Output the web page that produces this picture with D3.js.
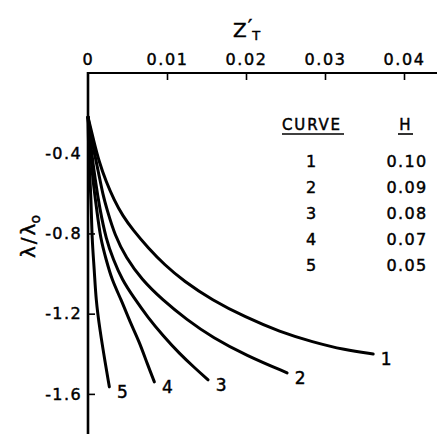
<!DOCTYPE html>
<html>
<head>
<meta charset="utf-8">
<script src="https://cdn.jsdelivr.net/npm/d3@7"></script>
<style>
  html, body { margin: 0; padding: 0; background: #fff; }
  svg { display: block; }
  text { font-family: "DejaVu Sans", sans-serif; fill: #000; stroke: #000; stroke-width: 0.45px; }
</style>
</head>
<body>
<svg id="chart" width="437" height="435"></svg>
<script>
// Z'_T (top axis) against lambda/lambda_0 (left axis) for five values of H
const curveIds = ["1", "2", "3", "4", "5"];
const hValues = ["0.10", "0.09", "0.08", "0.07", "0.05"];

const curve1 = [[0, -0.22], [0.0007, -0.334], [0.0014, -0.443], [0.0023, -0.543], [0.0033, -0.633],
  [0.0044, -0.713], [0.0057, -0.783], [0.0076, -0.872], [0.0097, -0.957], [0.0121, -1.037],
  [0.0157, -1.132], [0.0199, -1.217], [0.0243, -1.291], [0.0284, -1.341], [0.0325, -1.381], [0.0361, -1.401]];
const curve2 = [[0, -0.22], [0.0006, -0.36], [0.0013, -0.49], [0.0019, -0.61], [0.0024, -0.68],
  [0.0034, -0.81], [0.0048, -0.92], [0.0068, -1.03], [0.0094, -1.13], [0.0125, -1.23],
  [0.0158, -1.32], [0.0201, -1.41], [0.0252, -1.495]];
const curve3 = [[0, -0.22], [0.0004, -0.38], [0.0009, -0.53], [0.0015, -0.68], [0.0023, -0.83],
  [0.0032, -0.93], [0.0043, -1.03], [0.0058, -1.12], [0.0076, -1.22], [0.0095, -1.31],
  [0.0116, -1.40], [0.0135, -1.47], [0.0152, -1.53]];
const curve4 = [[0, -0.22], [0.0003, -0.38], [0.0006, -0.53], [0.0011, -0.68], [0.0016, -0.83],
  [0.0023, -0.93], [0.0030, -1.03], [0.0042, -1.13], [0.0053, -1.24], [0.0065, -1.34],
  [0.0075, -1.45], [0.0084, -1.54]];
const curve5 = [[0, -0.22], [0.0001, -0.43], [0.0004, -0.63], [0.0005, -0.83], [0.0008, -0.98],
  [0.0010, -1.13], [0.0015, -1.28], [0.0022, -1.45], [0.0027, -1.565]];
const seriesData = [curve1, curve2, curve3, curve4, curve5];

const xTicks = [0, 0.01, 0.02, 0.03, 0.04];
const xTickLabels = ["0", "0.01", "0.02", "0.03", "0.04"];
const yTicks = [-0.4, -0.8, -1.2, -1.6];
const yTickLabels = ["-0.4", "-0.8", "-1.2", "-1.6"];
const xAxisEnd = 0.0443;
const yAxisEnd = -1.8;

const svg = d3.select("#chart");
const x = d3.scaleLinear().domain([0, 0.04]).range([88, 404]);
const y = d3.scaleLinear().domain([0, -1.8]).range([73, 434]);

// axis lines
svg.append("line")
  .attr("x1", x(0)).attr("x2", x(xAxisEnd))
  .attr("y1", y(0)).attr("y2", y(0))
  .attr("stroke", "#000").attr("stroke-width", 2);
svg.append("line")
  .attr("x1", x(0)).attr("x2", x(0))
  .attr("y1", y(0) - 1).attr("y2", y(yAxisEnd))
  .attr("stroke", "#000").attr("stroke-width", 2.6);

// top axis, ticks pointing down into the plot
const xAxis = d3.axisTop(x)
  .tickValues(xTicks)
  .tickSize(-7)
  .tickPadding(8)
  .tickFormat((d, i) => xTickLabels[i]);
const gx = svg.append("g").attr("transform", `translate(0,${y(0)})`).call(xAxis);
gx.select(".domain").remove();
gx.selectAll(".tick line").attr("stroke-width", 1.6).filter(d => d === 0).remove();
gx.selectAll(".tick text")
  .attr("font-size", 16).attr("letter-spacing", 1.6)
  .style("font-family", "DejaVu Sans, sans-serif");

// left axis, ticks pointing right
const yAxis = d3.axisLeft(y)
  .tickValues(yTicks)
  .tickSize(-7)
  .tickPadding(6)
  .tickFormat((d, i) => yTickLabels[i]);
const gy = svg.append("g").attr("transform", `translate(${x(0)},0)`).call(yAxis);
gy.select(".domain").remove();
gy.selectAll(".tick line").attr("stroke-width", 1.6);
gy.selectAll(".tick text")
  .attr("font-size", 16).attr("letter-spacing", 1.4)
  .style("font-family", "DejaVu Sans, sans-serif");

// axis titles
const title = svg.append("text")
  .attr("x", 233).attr("y", 37)
  .attr("font-size", 20);
title.append("tspan").text("Z");
title.append("tspan").attr("dy", -4).attr("dx", 1).text("′");
title.append("tspan").attr("font-size", 13).attr("dy", 7).attr("dx", 0).text("T");

const ylab = svg.append("text")
  .attr("transform", "translate(35,258) rotate(-90)")
  .attr("font-size", 20);
ylab.append("tspan").text("λ");
ylab.append("tspan").attr("dx", 2).text("/");
ylab.append("tspan").attr("dx", 2).text("λ");
ylab.append("tspan").attr("font-size", 14).attr("dy", 5).text("o");

// curves
const line = d3.line()
  .x(d => x(d[0]))
  .y(d => y(d[1]))
  .curve(d3.curveBasis);

svg.append("g").selectAll("path")
  .data(seriesData)
  .join("path")
  .attr("d", line)
  .attr("fill", "none")
  .attr("stroke", "#000")
  .attr("stroke-width", 3)
  .attr("stroke-linecap", "round");

// curve number at the end of each curve
svg.append("g").selectAll("text")
  .data(seriesData)
  .join("text")
  .attr("x", d => x(d[d.length - 1][0]) + 13)
  .attr("y", d => y(d[d.length - 1][1]) + 5)
  .attr("text-anchor", "middle")
  .attr("dominant-baseline", "central")
  .attr("font-size", 17)
  .text((d, i) => curveIds[i]);

// legend table
const legend = svg.append("g");
legend.append("text").attr("x", 312).attr("y", 130)
  .attr("text-anchor", "middle").attr("font-size", 15).attr("letter-spacing", 1.8)
  .text("CURVE");
legend.append("line").attr("x1", 282).attr("x2", 344).attr("y1", 134).attr("y2", 134)
  .attr("stroke", "#000").attr("stroke-width", 1.6);
legend.append("text").attr("x", 405).attr("y", 130)
  .attr("text-anchor", "middle").attr("font-size", 15)
  .text("H");
legend.append("line").attr("x1", 398).attr("x2", 413).attr("y1", 134).attr("y2", 134)
  .attr("stroke", "#000").attr("stroke-width", 1.6);

legend.selectAll("text.row-id")
  .data(curveIds)
  .join("text")
  .attr("class", "row-id")
  .attr("x", 311)
  .attr("y", (d, i) => 167 + i * 26)
  .attr("text-anchor", "middle").attr("font-size", 16)
  .text(d => d);
legend.selectAll("text.row-h")
  .data(hValues)
  .join("text")
  .attr("class", "row-h")
  .attr("x", 407)
  .attr("y", (d, i) => 167 + i * 26)
  .attr("text-anchor", "middle").attr("font-size", 16).attr("letter-spacing", 1.4)
  .text(d => d);
</script>
</body>
</html>
